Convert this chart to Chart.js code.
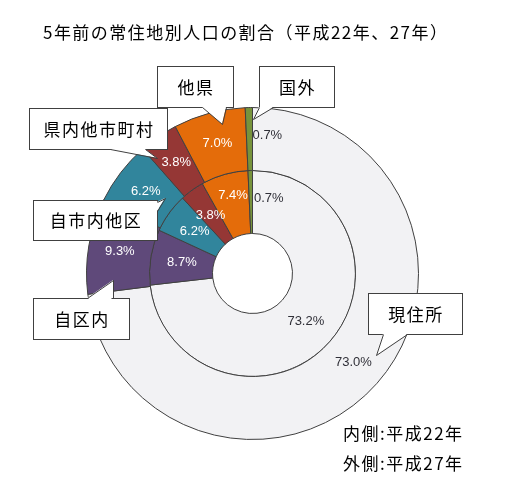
<!DOCTYPE html>
<html><head><meta charset="utf-8">
<script src="https://cdn.jsdelivr.net/npm/chart.js@4.4.0/dist/chart.umd.min.js"></script>
<style>html,body{margin:0;padding:0;background:#fff;overflow:hidden}canvas{display:block}</style>
</head><body>
<canvas id="c" width="510" height="491"></canvas>
<script>
const categories = ['現住所','自区内','自市内他区','県内他市町村','他県','国外'];
const values2015 = [73.0, 9.3, 6.2, 3.8, 7.0, 0.7];   // outer ring
const values2010 = [73.2, 8.7, 6.2, 3.8, 7.4, 0.7];   // inner ring
const seriesLabels = ['平成27年','平成22年'];
const titleText = '5年前の常住地別人口の割合（平成22年、27年）';
const legendLines = ['内側:平成22年','外側:平成27年'];

const colors = ['#F2F2F4','#5F497A','#31859C','#953735','#E46C0A','#77933C'];
const textColors = ['#303038','#ffffff','#ffffff','#ffffff','#ffffff','#303038'];
const JP = '"Noto Sans CJK JP", "Noto Sans", sans-serif';

// callout boxes (annotation styling), keyed by category index
const callouts = {
  0: {box:[368,293,94,41], tail:[[383,334],[376,355],[407,334]]},
  1: {box:[33,298,96,41],  tail:[[87,298],[113,280],[113,298]]},
  2: {box:[33,200,124,40], tail:[[157,202],[165,198],[157,211]]},
  3: {box:[29,108,138,41], tail:[[110,149],[157,158],[145,149]]},
  4: {box:[157,66,76,41],  tail:[[202,107],[222,124],[226,107]]},
  5: {box:[259,66,75,41],  tail:[[259,107],[253,119],[273,107]]}
};
const labelNudge = {'1-4':[0,-9]};

const labelPlugin = {
  id: 'labels',
  afterDraw(chart) {
    const ctx = chart.ctx;
    ctx.save();
    // title
    ctx.font = '17px ' + JP;
    ctx.fillStyle = '#000';
    ctx.textBaseline = 'middle';
    ctx.textAlign = 'left';
    ctx.letterSpacing = '0px';
    const w0 = ctx.measureText(titleText).width;
    const n = [...titleText].length;
    ctx.letterSpacing = ((404 - w0) / (n - 1)).toFixed(2) + 'px';
    ctx.fillText(titleText, 43, 33);

    // percent labels
    ctx.letterSpacing = '0px';
    ctx.font = '13px "Liberation Sans", Arial, sans-serif';
    chart.data.datasets.forEach((ds, di) => {
      const meta = chart.getDatasetMeta(di);
      meta.data.forEach((arc, i) => {
        const p = arc.getProps(['x','y','startAngle','endAngle','innerRadius','outerRadius'], true);
        const mid = (p.startAngle + p.endAngle) / 2;
        const r = (p.innerRadius + p.outerRadius) / 2;
        let x = p.x + Math.cos(mid) * r;
        let y = p.y + Math.sin(mid) * r;
        const txt = ds.data[i].toFixed(1) + '%';
        ctx.fillStyle = textColors[i];
        if (ds.data[i] < 2) {
          ctx.textAlign = 'left';
          x = x + 3; y = y - 4;
        } else {
          ctx.textAlign = 'center';
        }
        const nd = labelNudge[di + '-' + i];
        if (nd) { x += nd[0]; y += nd[1]; }
        ctx.fillText(txt, x, y);
      });
    });

    // callouts
    Object.keys(callouts).forEach(k => {
      const c = callouts[k];
      const [bx, by, bw, bh] = c.box;
      const t = c.tail;
      ctx.fillStyle = '#fff';
      ctx.strokeStyle = '#404040';
      ctx.lineWidth = 1;
      ctx.fillRect(bx, by, bw, bh);
      ctx.strokeRect(bx + 0.5, by + 0.5, bw, bh);
      ctx.beginPath();
      ctx.moveTo(t[0][0], t[0][1]);
      ctx.lineTo(t[1][0], t[1][1]);
      ctx.lineTo(t[2][0], t[2][1]);
      ctx.closePath();
      ctx.fill();
      ctx.beginPath();
      ctx.strokeStyle = '#fff';
      ctx.lineWidth = 2;
      ctx.moveTo(t[0][0] + (t[0][1] === t[2][1] ? 1.5 : 0.5), t[0][1] + (t[0][0] === t[2][0] ? 1.5 : 0.5));
      ctx.lineTo(t[2][0] - (t[0][1] === t[2][1] ? 1.5 : -0.5), t[2][1] - (t[0][0] === t[2][0] ? 1.5 : -0.5));
      ctx.stroke();
      ctx.beginPath();
      ctx.strokeStyle = '#404040';
      ctx.lineWidth = 1;
      ctx.moveTo(t[0][0] + 0.5, t[0][1] + 0.5);
      ctx.lineTo(t[1][0] + 0.5, t[1][1] + 0.5);
      ctx.lineTo(t[2][0] + 0.5, t[2][1] + 0.5);
      ctx.stroke();
      ctx.fillStyle = '#000';
      ctx.font = '17px ' + JP;
      ctx.letterSpacing = '1.5px';
      ctx.textAlign = 'center';
      ctx.fillText(categories[k], bx + bw / 2 + 1, by + bh / 2 + 1);
    });

    // legend notes
    ctx.textAlign = 'left';
    ctx.font = '17px ' + JP;
    ctx.letterSpacing = '1.5px';
    ctx.fillStyle = '#000';
    ctx.fillText(legendLines[0], 343, 434);
    ctx.fillText(legendLines[1], 343, 464);
    ctx.restore();
  }
};

new Chart(document.getElementById('c'), {
  type: 'doughnut',
  data: {
    labels: categories,
    datasets: [
      { label: seriesLabels[0], data: values2015, backgroundColor: colors, borderColor: '#404040', borderWidth: 1 },
      { label: seriesLabels[1], data: values2010, backgroundColor: colors, borderColor: '#404040', borderWidth: 1 }
    ]
  },
  options: {
    responsive: false,
    animation: false,
    cutout: 40,
    layout: { padding: { left: 86, right: 91, top: 107, bottom: 51 } },
    plugins: { legend: { display: false }, tooltip: { enabled: false }, title: { display: false } }
  },
  plugins: [labelPlugin]
});
</script>
</body></html>
